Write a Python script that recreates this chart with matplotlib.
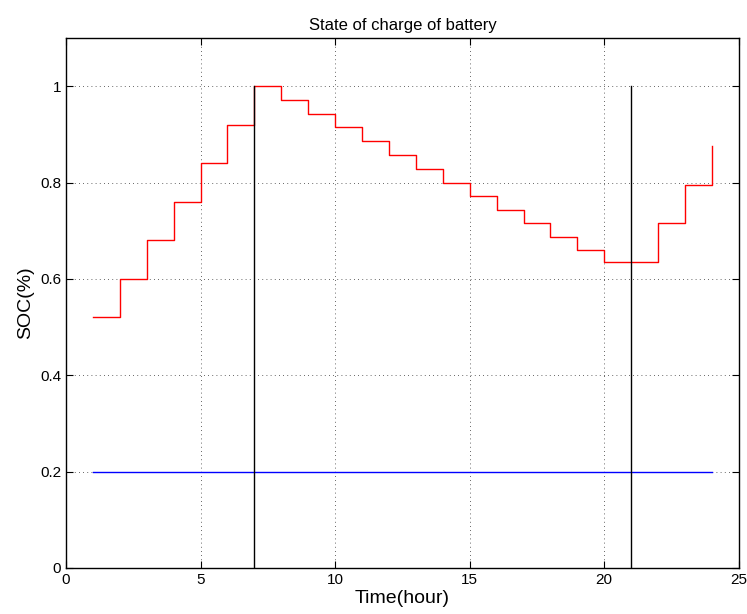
import numpy as np
import matplotlib
matplotlib.use('Agg')
import matplotlib.pyplot as plt

# SOC data (hourly, drawn as stairs)
hours = np.arange(1, 25)
soc = [0.52, 0.60, 0.68, 0.76, 0.84, 0.92, 1.0, 0.972, 0.943, 0.915, 0.886, 0.857,
       0.829, 0.80, 0.772, 0.744, 0.716, 0.688, 0.66, 0.636, 0.636, 0.716, 0.796, 0.876]
soc_min = 0.2
marker_hours = [7, 21]

plt.rcParams['font.family'] = ['Liberation Sans', 'DejaVu Sans']

fig = plt.figure(figsize=(7.47, 6.14), dpi=100)
ax = fig.add_axes([0.0884, 0.075, 0.9006, 0.863])

ax.plot(hours, soc, drawstyle='steps-post', color='red', lw=1)
ax.plot([hours[0], hours[-1]], [soc_min, soc_min], color='blue', lw=1)
for h in marker_hours:
    ax.plot([h, h], [0, 1], color='black', lw=1)

ax.set_xlim(0, 25)
ax.set_ylim(0, 1.1)
ax.set_xticks([0, 5, 10, 15, 20, 25])
ax.set_yticks([0, 0.2, 0.4, 0.6, 0.8, 1.0])
ax.set_yticklabels(['0', '0.2', '0.4', '0.6', '0.8', '1'])
ax.grid(True, color='black', linestyle=(0, (1, 4)), lw=0.6, alpha=0.8)
ax.tick_params(direction='in', top=True, right=True, labelsize=11, length=5)
for s in ax.spines.values():
    s.set_linewidth(1)

ax.set_title('State of charge of battery', fontsize=12)
ax.set_xlabel('Time(hour)', fontsize=14, labelpad=2)
ax.set_ylabel('SOC(%)', fontsize=14)

fig.savefig('out.png', dpi=100)
